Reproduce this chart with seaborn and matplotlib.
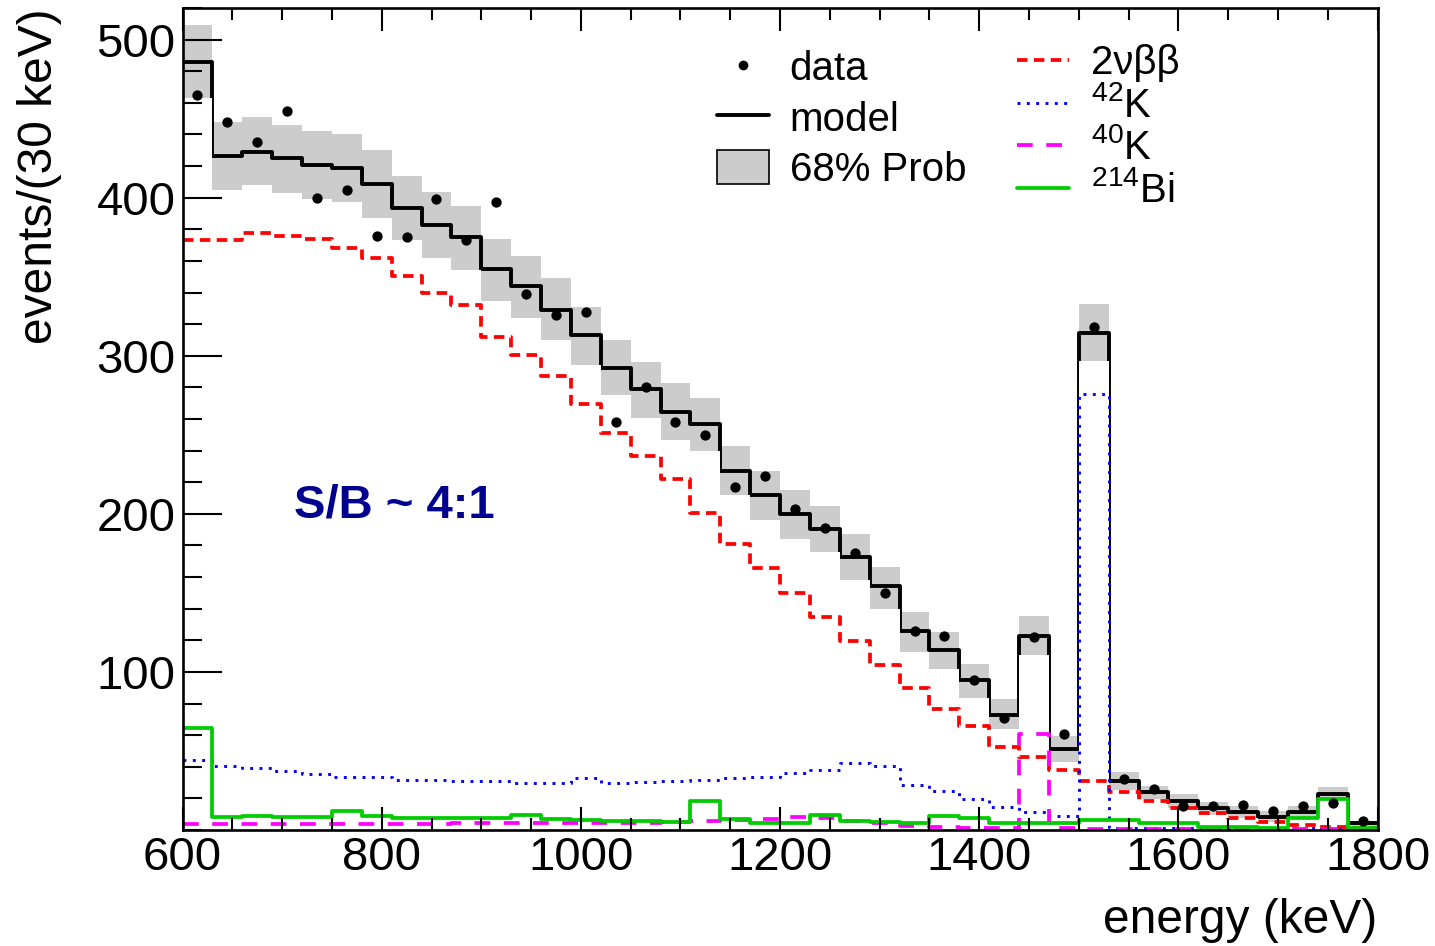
import numpy as np
import pandas as pd
import matplotlib
matplotlib.use("Agg")
import matplotlib.pyplot as plt
import seaborn as sns
from matplotlib.lines import Line2D
from matplotlib.patches import Patch
from matplotlib.ticker import FixedLocator, MultipleLocator

# Energy binning (keV)
E_MIN, E_MAX, BIN_WIDTH = 600, 1800, 30

# Observed counts per 30 keV bin
data_counts = [465, 448, 435, 455, 400, 405, 376, 375, 399, 373,
               397, 339, 326, 328, 258, 280, 258, 250, 217, 224,
               203, 191, 175, 150, 126, 123, 95, 71, 122, 61,
               318, 32, 26, 15, 15, 16, 12, 15, 17, 6]

# Best-fit model and its 68% probability band
model_counts = [486, 426.4, 429, 425, 420.7, 419, 409, 393.7, 382.7, 375,
                354.6, 344, 328.7, 312.9, 292.4, 278.7, 264.5, 257, 227, 212,
                200, 190.6, 172.6, 154.5, 126.2, 113.6, 94.6, 72.8, 123, 51.3,
                314.5, 31.2, 23.9, 18.6, 13.7, 11.6, 8.4, 11.6, 22.8, 4.2]
band_upper = [509, 448, 451, 446, 442, 440.5, 430, 414, 403.6, 395,
              374, 363, 349, 331, 310, 296, 282.5, 273, 243, 227,
              215, 205, 187, 166.7, 138, 125, 105, 83, 135.7, 59.7,
              332.5, 36.9, 27.9, 22.8, 17.9, 15.5, 12, 15.5, 27.4, 6]
band_lower = [463, 405, 408, 403, 399, 397.5, 387, 373, 362, 354,
              334.6, 324, 310, 294, 275, 260.6, 247, 240, 212, 196,
              184, 176, 158, 139.8, 112.5, 101.8, 83.8, 63.8, 110.8, 42.9,
              296.6, 25.3, 19.4, 13.7, 9.5, 7.7, 5, 7.7, 19, 2.5]

# Fit components
bb2nu = [373, 373, 378, 375.5, 373.7, 368.3, 362, 350.4, 339.5, 332,
         311.8, 300.2, 287.5, 269.2, 251.2, 236.4, 222.3, 200.6, 181.1, 165.7,
         149.9, 134.9, 119.5, 104.5, 90.1, 76.8, 65.9, 52.4, 46, 38,
         31.2, 24.3, 18.4, 13.7, 10.5, 7.4, 5.3, 3.2, 2.0, 1.0]
k42 = [44.3, 40.5, 39, 37.4, 35.3, 33.8, 33.8, 31.7, 31.7, 31,
       31, 29.6, 30, 32.7, 30, 30.6, 31, 31.7, 32.7, 33.4,
       35.9, 38, 42.2, 40.5, 28.5, 24.9, 19.7, 14.6, 11.6, 8.9,
       276, 1.5, 1.4, 1.3, 1.2, 1.1, 1.0, 1.0, 0.9, 0.9]
k40 = [3.8, 3.8, 3.8, 3.8, 3.8, 3.8, 3.8, 4.0, 4.0, 4.2,
       4.5, 4.5, 4.2, 4.2, 4.2, 4.5, 5.3, 6.0, 6.6, 7.2,
       8.3, 7.6, 5.5, 4.2, 2.5, 2.0, 1.2, 1.0, 61, 1.0,
       0.8, 0.8, 0.7, 0.7, 0.6, 0.6, 0.5, 0.5, 0.5, 0.5]
bi214 = [64.4, 8, 8.9, 8, 8, 12.2, 9, 7.4, 7.4, 7.4,
         7.4, 9.5, 6.7, 6.3, 6, 6, 5.3, 18.6, 6.7, 4.6,
         4.6, 9.5, 6, 5.3, 4.6, 8.9, 7.4, 4.2, 4.2, 4.2,
         6.3, 6.3, 4.2, 4.2, 2.1, 2.1, 1.3, 7.4, 19.6, 1.3]

x_tick_values = [600, 800, 1000, 1200, 1400, 1600, 1800]
y_tick_values = [100, 200, 300, 400, 500]

sns.set_style("ticks")
plt.rcParams["font.family"] = ["Liberation Sans", "DejaVu Sans"]
plt.rcParams["mathtext.fontset"] = "custom"
plt.rcParams["mathtext.rm"] = "Liberation Sans"
plt.rcParams["mathtext.it"] = "Liberation Sans:italic"
plt.rcParams["mathtext.bf"] = "Liberation Sans:bold"
for key in ("text.color", "axes.labelcolor", "xtick.color", "ytick.color",
            "xtick.labelcolor", "ytick.labelcolor", "axes.edgecolor"):
    plt.rcParams[key] = "black"

edges = [float(e) for e in np.arange(E_MIN, E_MAX + BIN_WIDTH, BIN_WIDTH)]
centers = [e + BIN_WIDTH / 2 for e in edges[:-1]]
df = pd.DataFrame({
    "energy": centers,
    "data": data_counts,
    "model": model_counts,
    "band_upper": band_upper,
    "band_lower": band_lower,
    "bb2nu": bb2nu,
    "k42": k42,
    "k40": k40,
    "bi214": bi214,
})

fig = plt.figure(figsize=(14.35, 9.46), dpi=100)
ax = fig.add_axes([0.1272, 0.1226, 0.8328, 0.8689])


def hist_step(column, **kws):
    sns.histplot(data=df, x="energy", weights=column, bins=edges,
                 element="step", ax=ax, **kws)


# Probability band: upper bound filled grey, lower bound blanked out in white
hist_step("band_upper", fill=True, color="#cccccc", facecolor="#cccccc",
          edgecolor="none", linewidth=0, zorder=1.0)
hist_step("model", fill=False, color="black", linewidth=2.8, zorder=1.2)
hist_step("band_lower", fill=True, color="white", facecolor="white",
          edgecolor="none", linewidth=0, zorder=1.4)

# Components
hist_step("bb2nu", fill=False, color="#ff0000", linewidth=2.7,
          dashes=(2.8, 1.7), zorder=1.6)
hist_step("k42", fill=False, color="#0000ff", linewidth=2.1,
          dashes=(1.0, 2.2), zorder=1.7)
hist_step("k40", fill=False, color="#ff00ff", linewidth=2.7,
          dashes=(4.2, 3.6), zorder=1.8)
hist_step("bi214", fill=False, color="#00cc00", linewidth=2.7, zorder=1.9)

sns.scatterplot(data=df, x="energy", y="data", color="black", s=55,
                linewidth=0, zorder=2.0, legend=False, ax=ax)

ax.set_xlim(E_MIN, E_MAX)
ax.set_ylim(0, 520)
ax.set_axisbelow(False)

ax.xaxis.set_major_locator(FixedLocator(x_tick_values))
ax.xaxis.set_minor_locator(MultipleLocator(50))
ax.yaxis.set_major_locator(FixedLocator(y_tick_values))
ax.yaxis.set_minor_locator(MultipleLocator(20))

ax.tick_params(axis="y", which="major", direction="in", length=28, width=1.5,
               left=True, right=False, labelsize=34, pad=5, color="black",
               labelcolor="black")
ax.tick_params(axis="y", which="minor", direction="in", length=14, width=1.5,
               left=True, right=False, color="black")
ax.tick_params(axis="x", which="major", direction="in", length=16.5, width=1.5,
               bottom=True, top=True, labelsize=34, pad=4, color="black",
               labelcolor="black")
ax.tick_params(axis="x", which="minor", direction="in", length=8.5, width=1.5,
               bottom=True, top=True, color="black")

for spine in ax.spines.values():
    spine.set_visible(True)
    spine.set_linewidth(1.9)
    spine.set_color("black")
    spine.set_zorder(5)

ax.set_xlabel("energy (keV)", fontsize=34.5, loc="right", color="black")
ax.xaxis.set_label_coords(1.0, -0.083)
ax.set_ylabel("events/(30 keV)", fontsize=34.5, loc="top", color="black")
ax.yaxis.set_label_coords(-0.101, 1.0)

ax.text(813, 197.6, "S/B ~ 4:1", color="#000090", fontsize=34,
        fontweight="bold", ha="center", va="baseline")

left_handles = [
    Line2D([], [], marker="o", color="black", linestyle="none", markersize=6),
    Line2D([], [], color="black", linewidth=2.8),
    Patch(facecolor="#cccccc", edgecolor="black", linewidth=1.2),
]
leg1 = ax.legend(left_handles, ["data", "model", "68% Prob"],
                 loc="upper left", bbox_to_anchor=(0.4997, 0.9475),
                 bbox_transform=fig.transFigure, frameon=False, fontsize=29,
                 handlelength=1.3, handleheight=0.9, handletextpad=0.5,
                 labelspacing=0.29, borderpad=0, borderaxespad=0,
                 labelcolor="black")
ax.add_artist(leg1)

right_handles = [
    Line2D([], [], color="#ff0000", linewidth=2.7, dashes=(2.8, 1.7)),
    Line2D([], [], color="#0000ff", linewidth=2.1, dashes=(1.0, 2.2)),
    Line2D([], [], color="#ff00ff", linewidth=2.7, dashes=(4.2, 3.6)),
    Line2D([], [], color="#00cc00", linewidth=2.7),
]
right_labels = ["2νββ", r"$^{\mathrm{42}}$K", r"$^{\mathrm{40}}$K",
                r"$^{\mathrm{214}}$Bi"]
ax.legend(right_handles, right_labels, loc="upper left",
          bbox_to_anchor=(0.7087, 0.9534), bbox_transform=fig.transFigure,
          frameon=False, fontsize=29, handlelength=1.3, handletextpad=0.55,
          labelspacing=0.09, borderpad=0, borderaxespad=0,
          labelcolor="black")

fig.savefig("out.png", dpi=100)
